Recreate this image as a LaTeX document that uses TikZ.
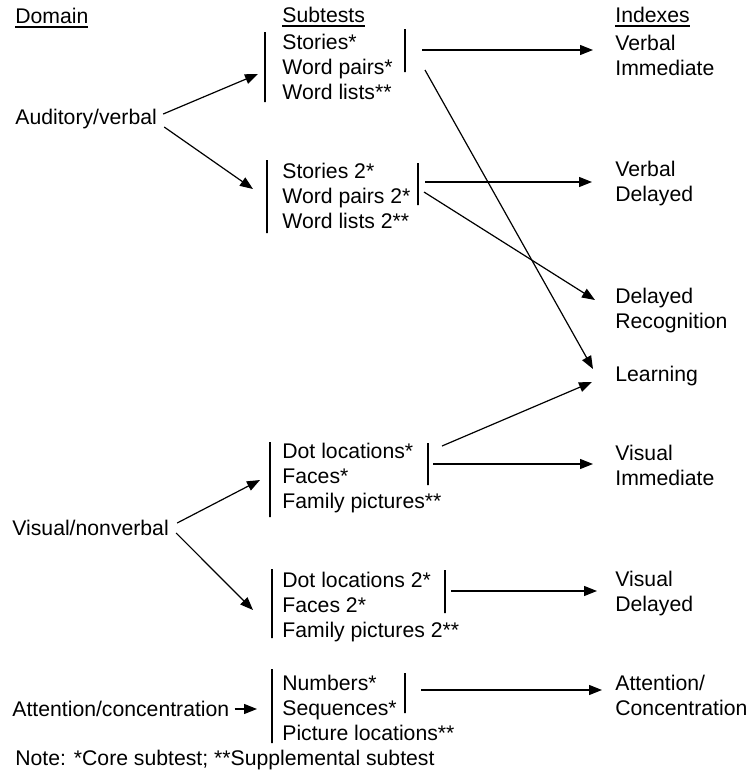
\documentclass[tikz,border=0pt]{standalone}
\usepackage{fontspec}
\setmainfont{Liberation Sans}
\usetikzlibrary{arrows.meta,calc}

\newcommand{\hdline}[1]{\setbox0\hbox{#1}\rlap{\rule[-2pt]{\wd0}{0.9pt}}\box0}

\begin{document}
\begin{tikzpicture}[x=0.5pt, y=-0.5pt,
  every node/.style={font=\fontsize{10.6}{12.5}\selectfont, inner sep=0pt},
  lbl/.style={anchor=west},
  grp/.style={anchor=west, align=left},
  bar/.style={draw, line width=0.7pt, minimum width=0pt, minimum height=#1},
  arr/.style={-{Triangle[length=6.5pt,width=5pt]}, line width=0.6pt}]
  \useasboundingbox (0,0) rectangle (750,773);
  % column heads
  \node[lbl] (hdom) at (15,18) {\hdline{Domain}};
  \node[lbl] (hsub) at (282,17) {\hdline{Subtests}};
  \node[lbl] (hidx) at (615,17) {\hdline{Indexes}};
  % domains
  \node[lbl] (aud) at (15,119) {Auditory/verbal};
  \node[lbl] (vis) at (12,528) {Visual/nonverbal};
  \node[lbl] (att) at (12,709) {Attention/concentration};
  % subtests
  \node[grp] (g1) at (282,67) {Stories*\\Word pairs*\\Word lists**};
  \node[grp] (g2) at (282,196) {Stories 2*\\Word pairs 2*\\Word lists 2**};
  \node[grp] (g3) at (282,478) {Dot locations*\\Faces*\\Family pictures**};
  \node[grp] (g4) at (282,607) {Dot locations 2*\\Faces 2*\\Family pictures 2**};
  \node[grp] (g5) at (282,708) {Numbers*\\Sequences*\\Picture locations**};
  \node[bar=35pt] (g1l) at (265,67) {};
  \node[bar=21.5pt] (g1r) at (405,50.5) {};
  \node[bar=36.5pt] (g2l) at (267,196.5) {};
  \node[bar=21pt] (g2r) at (418,184) {};
  \node[bar=37.5pt] (g3l) at (270,479.5) {};
  \node[bar=21pt] (g3r) at (428,464) {};
  \node[bar=34.5pt] (g4l) at (272,603.5) {};
  \node[bar=21.5pt] (g4r) at (445,591.5) {};
  \node[bar=37pt] (g5l) at (272,706) {};
  \node[bar=20pt] (g5r) at (405,693) {};
  % indexes
  \node[grp] (vi) at (615,55.5) {Verbal\\Immediate};
  \node[grp] (vd) at (615,183.5) {Verbal\\Delayed};
  \node[grp] (dr) at (615,310.5) {Delayed\\Recognition};
  \node[lbl] (learn) at (615,376) {Learning};
  \node[grp] (visi) at (615,465.5) {Visual\\Immediate};
  \node[grp] (visd) at (615,593.5) {Visual\\Delayed};
  \node[grp] (ac) at (615,695.5) {Attention/\\Concentration};
  \node[lbl] (note) at (15,760) {Note: *Core subtest; **Supplemental subtest};
  % domain to subtests
  \draw[arr] ($(aud.east)+(6,-5)$) -- ($(g1l)+(-7,7)$);
  \draw[arr] ($(aud.east)+(7,8)$) -- ($(g2l)+(-14,-7.5)$);
  \draw[arr] ($(vis.east)+(8,-5)$) -- ($(g3l)+(-10,0.5)$);
  \draw[arr] ($(vis.east)+(7,5)$) -- ($(g4l)+(-19,6.5)$);
  \draw[arr] ($(att.east)+(5,0)$) -- ($(g5l)+(-15,3)$);
  % subtests to indexes
  \draw[arr] ($(g1r)+(17,-0.5)$) -- ($(vi.west)+(-22,-5.5)$);
  \draw[arr] ($(g1r)+(20,19.5)$) -- ($(learn.west)+(-22,-7)$);
  \draw[arr] ($(g2r)+(7,-2)$) -- ($(vd.west)+(-23,-1.5)$);
  \draw[arr] ($(g2r)+(6,8)$) -- ($(dr.west)+(-20,-10.5)$);
  \draw[arr] ($(g3r)+(14,-18)$) -- ($(learn.west)+(-23,6)$);
  \draw[arr] ($(g3r)+(5,0)$) -- ($(visi.west)+(-22,-1.5)$);
  \draw[arr] ($(g4r)+(6,-0.5)$) -- ($(visd.west)+(-18,-2.5)$);
  \draw[arr] ($(g5r)+(16,-3)$) -- ($(ac.west)+(-13,-5.5)$);
\end{tikzpicture}
\end{document}
